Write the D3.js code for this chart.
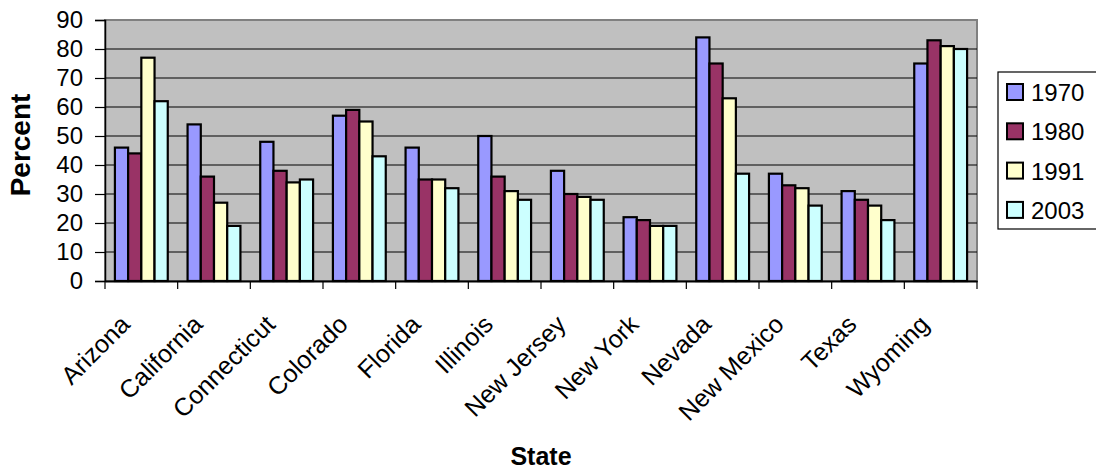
<!DOCTYPE html>
<html>
<head>
<meta charset="utf-8">
<script src="https://cdn.jsdelivr.net/npm/d3@7"></script>
<style>
  body { margin: 0; background: #fff; }
  text { font-family: Arial, "Liberation Sans", sans-serif; fill: #000; }
</style>
</head>
<body>
<div id="chart"></div>
<script>
const states = ['Arizona', 'California', 'Connecticut', 'Colorado', 'Florida', 'Illinois',
  'New Jersey', 'New York', 'Nevada', 'New Mexico', 'Texas', 'Wyoming'];
const years = ['1970', '1980', '1991', '2003'];
const v1970 = [46, 54, 48, 57, 46, 50, 38, 22, 84, 37, 31, 75];
const v1980 = [44, 36, 38, 59, 35, 36, 30, 21, 75, 33, 28, 83];
const v1991 = [77, 27, 34, 55, 35, 31, 29, 19, 63, 32, 26, 81];
const v2003 = [62, 19, 35, 43, 32, 28, 28, 19, 37, 26, 21, 80];
const yTicks = [0, 10, 20, 30, 40, 50, 60, 70, 80, 90];

const series = [v1970, v1980, v1991, v2003];
const colors = ['#9999FF', '#993366', '#FFFFCC', '#CCFFFF'];

const width = 1096;
const height = 470;
const m = { left: 105, right: 977, top: 20, bottom: 281 };

const svg = d3.select('#chart').append('svg')
  .attr('width', width)
  .attr('height', height);

const x = d3.scaleBand().domain(states).range([m.left, m.right]).paddingInner(0).paddingOuter(0);
const step = x.bandwidth();
// excel gap width 150%: 4 bars + 1.5 bar widths of gap
const barW = step / 5.5;
const xs = d3.scaleBand().domain(years).range([barW * 0.75, step - barW * 0.75]);
const y = d3.scaleLinear().domain([0, 90]).range([m.bottom, m.top]);

// plot background
svg.append('rect')
  .attr('x', m.left).attr('y', m.top)
  .attr('width', m.right - m.left).attr('height', m.bottom - m.top)
  .style('fill', '#C0C0C0')
  .style('stroke', '#808080')
  .style('stroke-width', 2);

// gridlines
svg.selectAll('.grid')
  .data(yTicks.filter(t => t > 0 && t < 90))
  .enter().append('line')
  .attr('class', 'grid')
  .attr('x1', m.left).attr('x2', m.right)
  .attr('y1', d => y(d)).attr('y2', d => y(d))
  .style('stroke', '#000')
  .style('stroke-width', 1.2);

// bars
years.forEach((yr, i) => {
  svg.selectAll('.bar' + yr)
    .data(series[i])
    .enter().append('rect')
    .attr('class', 'bar' + yr)
    .attr('x', (d, j) => x(states[j]) + xs(yr))
    .attr('y', d => y(d))
    .attr('width', xs.bandwidth())
    .attr('height', d => y(0) - y(d))
    .style('fill', colors[i])
    .style('stroke', '#000')
    .style('stroke-width', 2.2);
});

// y axis
const yAxis = svg.append('g')
  .attr('transform', `translate(${m.left},0)`)
  .call(d3.axisLeft(y).tickValues(yTicks).tickSize(10).tickPadding(12));
yAxis.select('.domain').style('stroke', '#000').style('stroke-width', 1.5);
yAxis.selectAll('.tick line').style('stroke', '#000').style('stroke-width', 1.2);
yAxis.selectAll('.tick text')
  .style('font-size', '24px')
  .style('font-family', 'Arial, "Liberation Sans", sans-serif');

// x axis
const xAxis = svg.append('g')
  .attr('transform', `translate(0,${m.bottom})`)
  .call(d3.axisBottom(x).tickSize(0).tickFormat(''));
xAxis.select('.domain').style('stroke', '#000').style('stroke-width', 2);

// category separators
svg.selectAll('.xtick')
  .data(d3.range(states.length + 1))
  .enter().append('line')
  .attr('class', 'xtick')
  .attr('x1', d => m.left + d * step).attr('x2', d => m.left + d * step)
  .attr('y1', m.bottom).attr('y2', m.bottom + 8)
  .style('stroke', '#000')
  .style('stroke-width', 1.2);

// rotated state labels
svg.selectAll('.xlabel')
  .data(states)
  .enter().append('text')
  .attr('class', 'xlabel')
  .attr('transform', d => `translate(${x(d) + step / 2 - 10},${m.bottom + 45}) rotate(-45)`)
  .style('text-anchor', 'end')
  .style('font-size', '25px')
  .text(d => d);

// axis titles
svg.append('text')
  .attr('transform', `translate(30,145) rotate(-90)`)
  .style('text-anchor', 'middle')
  .style('font-size', '28px')
  .style('font-weight', 'bold')
  .text('Percent');

svg.append('text')
  .attr('x', (m.left + m.right) / 2)
  .attr('y', 465)
  .style('text-anchor', 'middle')
  .style('font-size', '25px')
  .style('font-weight', 'bold')
  .text('State');

// legend
const legend = svg.append('g').attr('transform', 'translate(998,72)');
legend.append('rect')
  .attr('width', 110).attr('height', 157)
  .style('fill', '#fff')
  .style('stroke', '#000')
  .style('stroke-width', 1.2);

legend.selectAll('.swatch')
  .data(years)
  .enter().append('rect')
  .attr('class', 'swatch')
  .attr('x', 9)
  .attr('y', (d, i) => 12 + i * 39.3)
  .attr('width', 16).attr('height', 16)
  .style('fill', (d, i) => colors[i])
  .style('stroke', '#000')
  .style('stroke-width', 2);

legend.selectAll('.ltext')
  .data(years)
  .enter().append('text')
  .attr('class', 'ltext')
  .attr('x', 33)
  .attr('y', (d, i) => 29 + i * 39.3)
  .style('font-size', '24px')
  .text(d => d);
</script>
</body>
</html>
